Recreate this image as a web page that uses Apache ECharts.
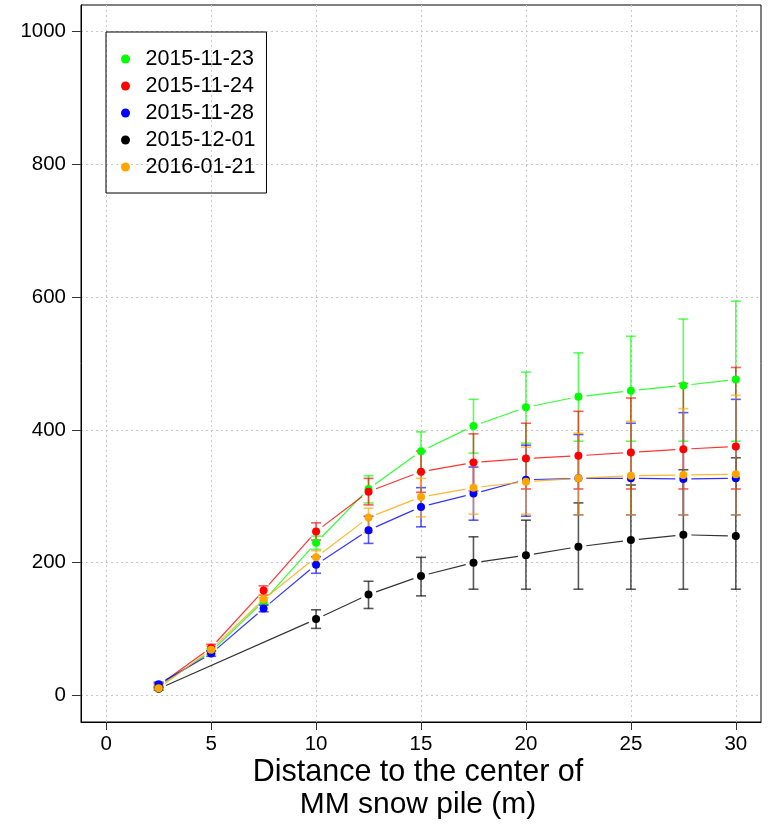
<!DOCTYPE html>
<html>
<head>
<meta charset="UTF-8">
<title>snow pile distance</title>
<script src="https://cdn.jsdelivr.net/npm/echarts@6/dist/echarts.min.js"></script>
<style>
  html, body { margin: 0; padding: 0; background: #fff; }
  #main { width: 769px; height: 824px; }
</style>
</head>
<body>
<div id="main"></div>
<script type="text/javascript">
// distance from centre (m)
var dist = [2.5, 5, 7.5, 10, 12.5, 15, 17.5, 20, 22.5, 25, 27.5, 30];

var names = ['2015-11-23', '2015-11-24', '2015-11-28', '2015-12-01', '2016-01-21'];
var colors = ['#00ff00', '#ff0000', '#0000ff', '#000000', '#ffa500'];

// means, lower and upper ends of the error bars, one array per date
var mean1123 = [14, 66, 142, 230, 311, 368, 406, 434, 450, 459, 467, 476];
var lo1123   = [11, 62, 137, 220, 290, 336, 365, 380, 383, 383, 383, 383];
var hi1123   = [17, 70, 147, 240, 331, 397, 446, 487, 516, 541, 567, 594];

var mean1124 = [15, 72, 158, 247, 307, 337, 351, 357, 361, 366, 371, 375];
var lo1124   = [12, 67, 151, 234, 287, 306, 308, 311, 311, 311, 311, 311];
var hi1124   = [18, 77, 165, 260, 327, 368, 394, 410, 428, 448, 470, 494];

var mean1128 = [17, 63, 131, 197, 249, 284, 304, 325, 327, 327, 326, 327];
var lo1128   = [14, 59, 126, 184, 229, 254, 264, 270, 272, 272, 272, 272];
var hi1128   = [20, 67, 136, 209, 270, 313, 344, 377, 393, 410, 426, 446];

var mean1201 = [10, null, null, 115, 152, 180, 200, 211, 224, 234, 242, 240];
var lo1201   = [8, null, null, 101, 131, 150, 160, 160, 160, 160, 160, 160];
var hi1201   = [12, null, null, 129, 172, 208, 239, 264, 290, 317, 340, 358];

var mean0121 = [11, 69, 145, 208, 268, 299, 313, 322, 327, 331, 332, 333];
var lo0121   = [9, 64, 139, 198, 245, 269, 273, 273, 272, 272, 272, 272];
var hi0121   = [13, 74, 151, 218, 282, 327, 352, 374, 395, 413, 432, 452];

var xTicks = [0, 5, 10, 15, 20, 25, 30];
var yTicks = [0, 200, 400, 600, 800, 1000];

var means = [mean1123, mean1124, mean1128, mean1201, mean0121];
var lows = [lo1123, lo1124, lo1128, lo1201, lo0121];
var highs = [hi1123, hi1124, hi1128, hi1201, hi0121];

var font = 'Liberation Sans, Arial, sans-serif';

function errorBar(color) {
    return function (params, api) {
        var x = api.value(0);
        var p1 = api.coord([x, api.value(1)]);
        var p2 = api.coord([x, api.value(2)]);
        var w = 5;
        var st = { stroke: color, lineWidth: 1.6, opacity: 0.65 };
        return {
            type: 'group',
            children: [
                { type: 'line', shape: { x1: p1[0], y1: p1[1], x2: p2[0], y2: p2[1] }, style: st },
                { type: 'line', shape: { x1: p1[0] - w, y1: p1[1], x2: p1[0] + w, y2: p1[1] }, style: st },
                { type: 'line', shape: { x1: p2[0] - w, y1: p2[1], x2: p2[0] + w, y2: p2[1] }, style: st }
            ]
        };
    };
}

// R type="b": segments stop short of the points
function gapLine(color) {
    return function (params, api) {
        var a = api.coord([api.value(0), api.value(1)]);
        var b = api.coord([api.value(2), api.value(3)]);
        var dx = b[0] - a[0], dy = b[1] - a[1];
        var len = Math.sqrt(dx * dx + dy * dy);
        var g = 8;
        if (len <= 2 * g) return null;
        var ux = dx / len, uy = dy / len;
        return {
            type: 'line',
            shape: { x1: a[0] + ux * g, y1: a[1] + uy * g, x2: b[0] - ux * g, y2: b[1] - uy * g },
            style: { stroke: color, lineWidth: 1.2, opacity: 0.8 }
        };
    };
}

var series = [];
// error bars first so points sit on top
for (var i = 0; i < names.length; i++) {
    var bars = [];
    var segs = [];
    var pts = [];
    for (var j = 0; j < dist.length; j++) {
        if (lows[i][j] != null) bars.push([dist[j], lows[i][j], highs[i][j]]);
        if (means[i][j] != null) pts.push([dist[j], means[i][j]]);
    }
    for (var k = 1; k < pts.length; k++) {
        segs.push([pts[k - 1][0], pts[k - 1][1], pts[k][0], pts[k][1]]);
    }
    series.push({
        name: names[i] + ' err',
        type: 'custom',
        renderItem: errorBar(colors[i]),
        encode: { x: 0, y: [1, 2] },
        data: bars,
        z: 2,
        silent: true
    });
    series.push({
        name: names[i] + ' line',
        type: 'custom',
        renderItem: gapLine(colors[i]),
        encode: { x: [0, 2], y: [1, 3] },
        data: segs,
        z: 2,
        silent: true
    });
    series.push({
        name: names[i],
        type: 'scatter',
        data: pts,
        symbol: 'circle',
        symbolSize: 8,
        itemStyle: { color: colors[i], opacity: 1 },
        z: 3
    });
}

var myChart = echarts.init(document.getElementById('main'));

var option = {
    animation: false,
    grid: {
        left: 81, right: 8, top: 5, bottom: 102,
        show: true,
        borderColor: '#000',
        borderWidth: 1
    },
    legend: {
        data: names,
        orient: 'vertical',
        left: 106,
        top: 32,
        icon: 'circle',
        itemWidth: 30,
        itemHeight: 9,
        itemGap: 5,
        padding: [16, 11, 15, 15],
        borderColor: '#000',
        borderWidth: 1,
        textStyle: { fontFamily: font, fontSize: 21.5, color: '#000' }
    },
    xAxis: {
        type: 'value',
        min: -1.2,
        max: 31.2,
        axisLine: { show: true, onZero: false, lineStyle: { color: '#000' } },
        axisTick: { show: true, customValues: xTicks, length: 8, lineStyle: { color: '#333' } },
        axisLabel: { customValues: xTicks, fontFamily: font, fontSize: 20.5, color: '#000', margin: 12 },
        splitLine: { show: true, lineStyle: { color: '#c8c8c8', type: [2, 3] } }
    },
    yAxis: {
        type: 'value',
        min: -40,
        max: 1040,
        axisLine: { show: true, onZero: false, lineStyle: { color: '#000' } },
        axisTick: { show: true, customValues: yTicks, length: 9, lineStyle: { color: '#333' } },
        axisLabel: {
            customValues: yTicks, fontFamily: font, fontSize: 20.5, color: '#000', margin: 15,
            formatter: function (v) { return String(v); }
        },
        splitLine: { show: true, lineStyle: { color: '#c8c8c8', type: [2, 3] } }
    },
    graphic: [
        { type: 'text', x: 418, y: 773, style: { text: 'Distance to the center of', font: '30.5px ' + font, fill: '#000', textAlign: 'center', textVerticalAlign: 'middle' } },
        { type: 'text', x: 418, y: 805, style: { text: 'MM snow pile (m)', font: '30px ' + font, fill: '#000', textAlign: 'center', textVerticalAlign: 'middle' } }
    ],
    series: series
};
myChart.setOption(option, true);
</script>
</body>
</html>
